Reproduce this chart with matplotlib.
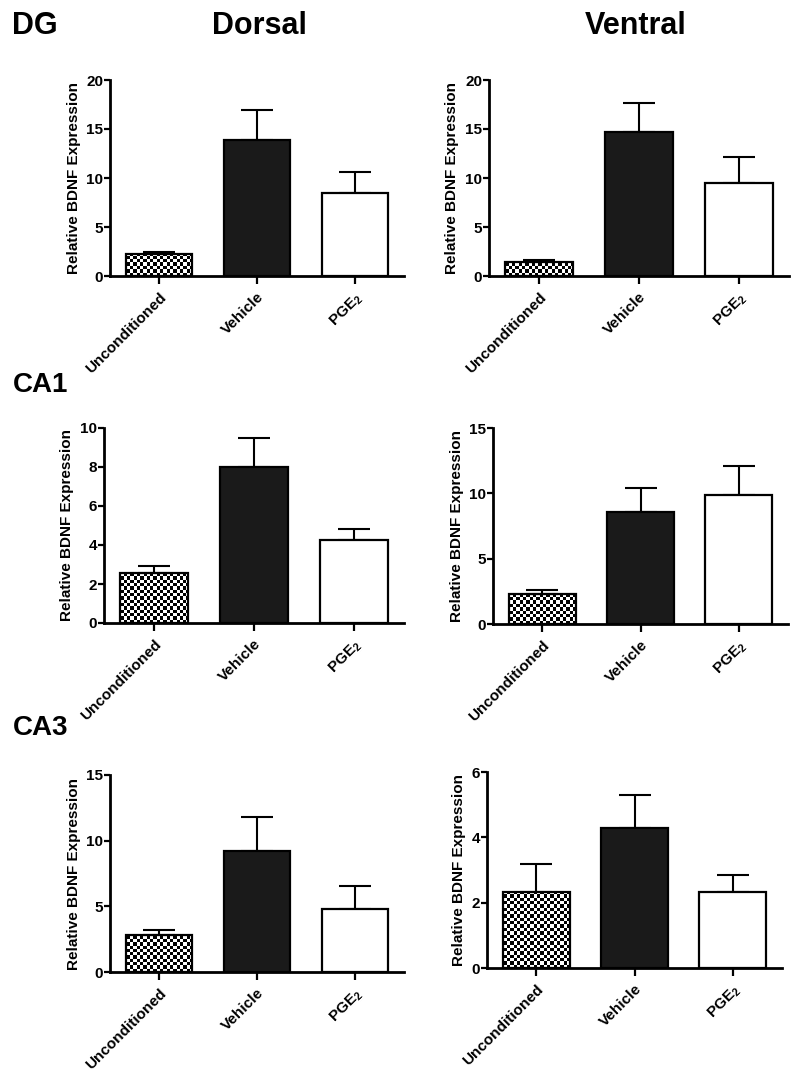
import numpy as np
import matplotlib
matplotlib.use("Agg")
import matplotlib.pyplot as plt

# -----------------------------
# DATA
# -----------------------------
groups = ["Unconditioned", "Vehicle", "PGE$_{2}$"]

dg_dorsal = [2.2, 13.9, 8.5]
dg_dorsal_err = [0.25, 3.0, 2.1]
dg_ventral = [1.4, 14.7, 9.45]
dg_ventral_err = [0.2, 3.0, 2.65]

ca1_dorsal = [2.55, 8.02, 4.25]
ca1_dorsal_err = [0.37, 1.48, 0.58]
ca1_ventral = [2.27, 8.6, 9.87]
ca1_ventral_err = [0.31, 1.78, 2.22]

ca3_dorsal = [2.8, 9.2, 4.77]
ca3_dorsal_err = [0.43, 2.63, 1.78]
ca3_ventral = [2.34, 4.29, 2.32]
ca3_ventral_err = [0.83, 1.02, 0.53]

ymax = [[20, 20], [10, 15], [15, 6]]
ystep = [[5, 5], [2, 5], [5, 2]]

# -----------------------------
# STYLE
# -----------------------------
plt.rcParams["font.family"] = ["Liberation Sans", "DejaVu Sans"]
plt.rcParams["font.weight"] = "bold"
plt.rcParams["mathtext.fontset"] = "custom"
plt.rcParams["mathtext.rm"] = "Liberation Sans:bold"
plt.rcParams["mathtext.default"] = "rm"

W, H = 800, 1074
fig = plt.figure(figsize=(W / 100, H / 100), dpi=100)

# axes boxes in pixels: left, right, top, bottom
boxes = [
    [(110, 404, 80, 276), (489, 789, 80, 276)],
    [(104, 404, 428, 623), (493, 788, 428, 624)],
    [(110, 404, 775, 972), (487, 782, 772, 968)],
]
data = [
    [(dg_dorsal, dg_dorsal_err), (dg_ventral, dg_ventral_err)],
    [(ca1_dorsal, ca1_dorsal_err), (ca1_ventral, ca1_ventral_err)],
    [(ca3_dorsal, ca3_dorsal_err), (ca3_ventral, ca3_ventral_err)],
]


def checker_fill(ax, patch, ax_w_px, ax_h_px, cell=3.3):
    nx = int(round(ax_w_px / cell))
    ny = int(round(ax_h_px / cell))
    board = (np.add.outer(np.arange(ny), np.arange(nx)) % 2).astype(float)
    im = ax.imshow(board, cmap="gray", extent=(0, 1, 0, 1),
                   transform=ax.transAxes, interpolation="nearest",
                   aspect="auto", zorder=1)
    im.set_clip_path(patch)


x = np.arange(len(groups))
for r in range(3):
    for c in range(2):
        l, rr, t, b = boxes[r][c]
        ax = fig.add_axes([l / W, 1 - b / H, (rr - l) / W, (b - t) / H])
        vals, errs = data[r][c]

        bars = ax.bar(x, vals, width=0.68, color=["none", "#1a1a1a", "white"],
                      edgecolor="black", linewidth=1.6, zorder=2)
        checker_fill(ax, bars[0], rr - l, b - t)
        ax.errorbar(x, vals, yerr=[np.zeros(3), errs], fmt="none",
                    ecolor="black", elinewidth=1.5, capsize=11.5,
                    capthick=1.5, zorder=1.8)

        ax.set_xlim(-0.5, 2.5)
        ax.set_ylim(0, ymax[r][c])
        ax.set_yticks(np.arange(0, ymax[r][c] + 0.01, ystep[r][c]))
        ax.set_xticks(x)
        ax.set_xticklabels(groups, rotation=45, ha="right",
                           rotation_mode="anchor", fontsize=11,
                           fontweight="bold")
        ax.tick_params(axis="y", labelsize=11, width=1.6, length=4, pad=1)
        ax.tick_params(axis="x", width=1.6, length=6, pad=4)
        for lab in ax.get_yticklabels():
            lab.set_fontweight("bold")
        ax.set_ylabel("Relative BDNF Expression", fontsize=11,
                      fontweight="bold", labelpad=4)
        for s in ["top", "right"]:
            ax.spines[s].set_visible(False)
        for s in ["left", "bottom"]:
            ax.spines[s].set_linewidth(2.0)

# -----------------------------
# HEADINGS
# -----------------------------
narrow = ["Liberation Sans Narrow", "Liberation Sans", "DejaVu Sans"]
fig.text(12 / W, 1 - 34 / H, "DG", fontsize=22, fontweight="bold",
         family=narrow, va="baseline")
fig.text(259 / W, 1 - 34 / H, "Dorsal", fontsize=22, fontweight="bold",
         family=narrow, ha="center", va="baseline")
fig.text(636 / W, 1 - 34 / H, "Ventral", fontsize=22, fontweight="bold",
         family=narrow, ha="center", va="baseline")
fig.text(13 / W, 1 - 392 / H, "CA1", fontsize=20, fontweight="bold",
         va="baseline")
fig.text(13 / W, 1 - 735 / H, "CA3", fontsize=20, fontweight="bold",
         va="baseline")

plt.savefig("out.png", dpi=100)
